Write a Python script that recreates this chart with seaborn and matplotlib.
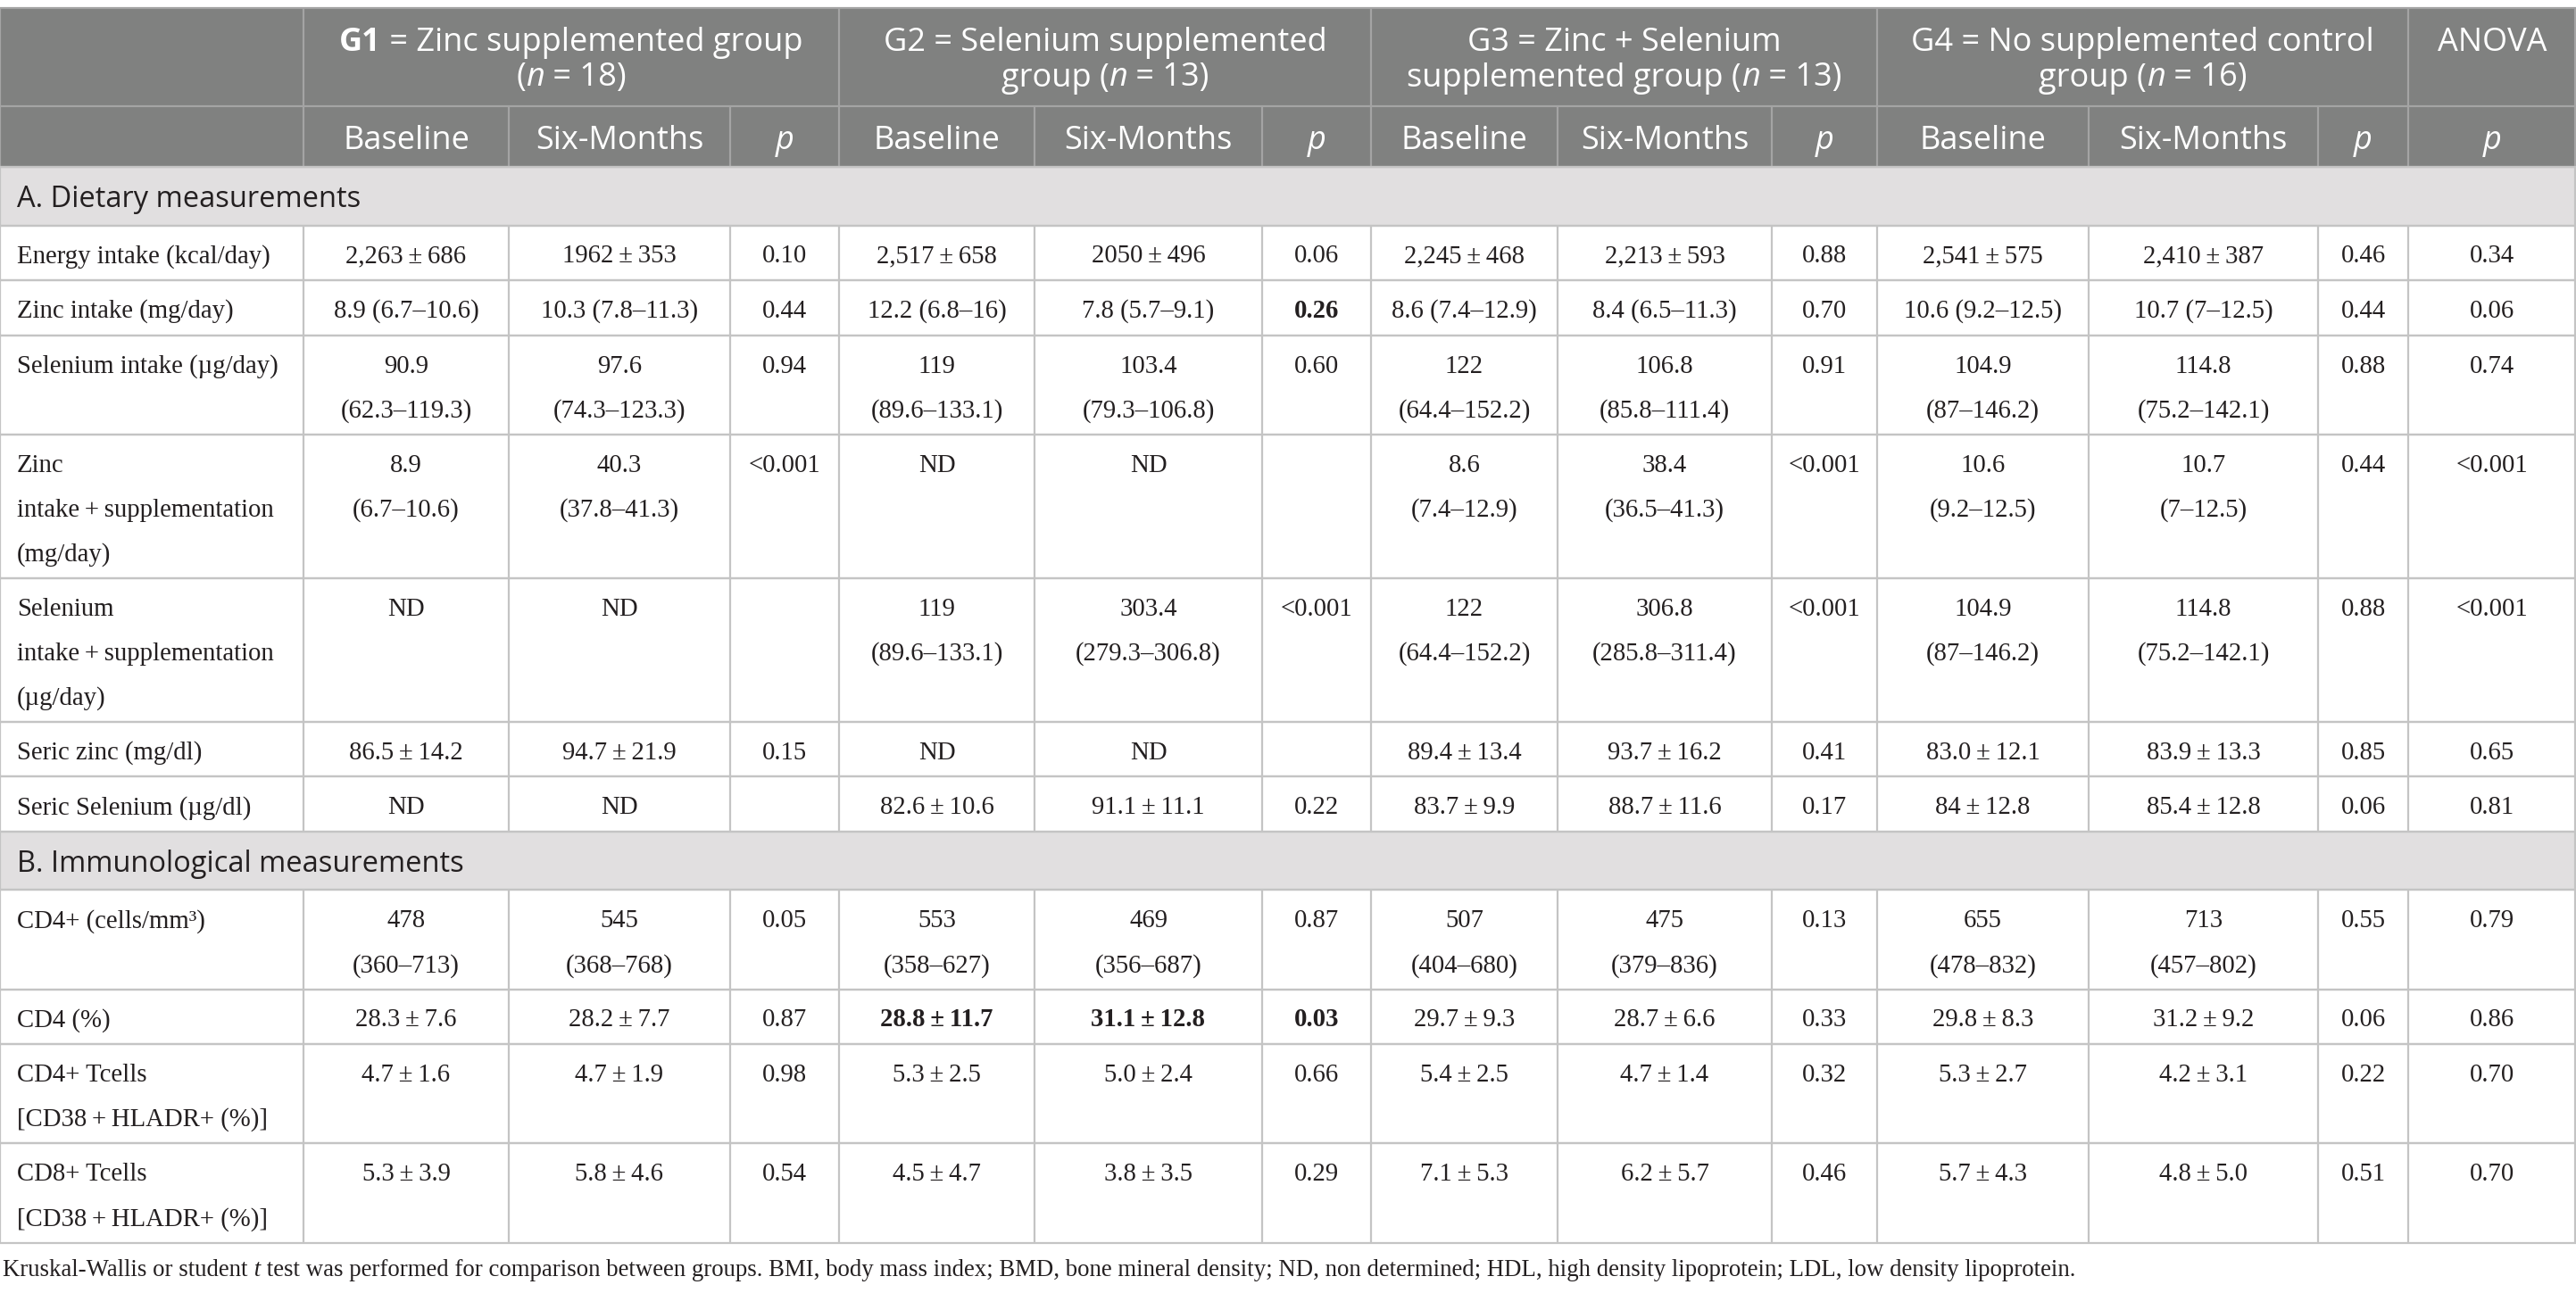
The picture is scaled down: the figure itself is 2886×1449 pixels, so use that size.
import matplotlib
matplotlib.use("Agg")
import numpy as np
import pandas as pd
import seaborn as sns
import matplotlib.pyplot as plt

# ---- table content -------------------------------------------------------
row_labels = [
    "Energy intake (kcal/day)",
    "Zinc intake (mg/day)",
    "Selenium intake (µg/day)",
    "Zinc\nintake\u2009+\u2009supplementation\n(mg/day)",
    "Selenium\nintake\u2009+\u2009supplementation\n(µg/day)",
    "Seric zinc (mg/dl)",
    "Seric Selenium (µg/dl)",
    "CD4+ (cells/mm³)",
    "CD4 (%)",
    "CD4+ Tcells\n[CD38\u2009+\u2009HLADR+ (%)]",
    "CD8+ Tcells\n[CD38\u2009+\u2009HLADR+ (%)]",
]
sections = {0: "A. Dietary measurements", 7: "B. Immunological measurements"}

g1_base = ["2,263 ± 686", "8.9 (6.7–10.6)", "90.9\n(62.3–119.3)", "8.9\n(6.7–10.6)", "ND",
           "86.5 ± 14.2", "ND", "478\n(360–713)", "28.3 ± 7.6", "4.7 ± 1.6", "5.3 ± 3.9"]
g1_six = ["1962 ± 353", "10.3 (7.8–11.3)", "97.6\n(74.3–123.3)", "40.3\n(37.8–41.3)", "ND",
          "94.7 ± 21.9", "ND", "545\n(368–768)", "28.2 ± 7.7", "4.7 ± 1.9", "5.8 ± 4.6"]
g1_p = ["0.10", "0.44", "0.94", "<0.001", "", "0.15", "", "0.05", "0.87", "0.98", "0.54"]

g2_base = ["2,517 ± 658", "12.2 (6.8–16)", "119\n(89.6–133.1)", "ND", "119\n(89.6–133.1)",
           "ND", "82.6 ± 10.6", "553\n(358–627)", "28.8 ± 11.7", "5.3 ± 2.5", "4.5 ± 4.7"]
g2_six = ["2050 ± 496", "7.8 (5.7–9.1)", "103.4\n(79.3–106.8)", "ND", "303.4\n(279.3–306.8)",
          "ND", "91.1 ± 11.1", "469\n(356–687)", "31.1 ± 12.8", "5.0 ± 2.4", "3.8 ± 3.5"]
g2_p = ["0.06", "0.26", "0.60", "", "<0.001", "", "0.22", "0.87", "0.03", "0.66", "0.29"]

g3_base = ["2,245 ± 468", "8.6 (7.4–12.9)", "122\n(64.4–152.2)", "8.6\n(7.4–12.9)", "122\n(64.4–152.2)",
           "89.4 ± 13.4", "83.7 ± 9.9", "507\n(404–680)", "29.7 ± 9.3", "5.4 ± 2.5", "7.1 ± 5.3"]
g3_six = ["2,213 ± 593", "8.4 (6.5–11.3)", "106.8\n(85.8–111.4)", "38.4\n(36.5–41.3)", "306.8\n(285.8–311.4)",
          "93.7 ± 16.2", "88.7 ± 11.6", "475\n(379–836)", "28.7 ± 6.6", "4.7 ± 1.4", "6.2 ± 5.7"]
g3_p = ["0.88", "0.70", "0.91", "<0.001", "<0.001", "0.41", "0.17", "0.13", "0.33", "0.32", "0.46"]

g4_base = ["2,541 ± 575", "10.6 (9.2–12.5)", "104.9\n(87–146.2)", "10.6\n(9.2–12.5)", "104.9\n(87–146.2)",
           "83.0 ± 12.1", "84 ± 12.8", "655\n(478–832)", "29.8 ± 8.3", "5.3 ± 2.7", "5.7 ± 4.3"]
g4_six = ["2,410 ± 387", "10.7 (7–12.5)", "114.8\n(75.2–142.1)", "10.7\n(7–12.5)", "114.8\n(75.2–142.1)",
          "83.9 ± 13.3", "85.4 ± 12.8", "713\n(457–802)", "31.2 ± 9.2", "4.2 ± 3.1", "4.8 ± 5.0"]
g4_p = ["0.46", "0.44", "0.88", "0.44", "0.88", "0.85", "0.06", "0.55", "0.06", "0.22", "0.51"]

anova_p = ["0.34", "0.06", "0.74", "<0.001", "<0.001", "0.65", "0.81", "0.79", "0.86", "0.70", "0.70"]

# (row, column) cells printed in bold
bold_cells = {(1, 6), (8, 4), (8, 5), (8, 6)}

group_titles = [
    ([("G1", "bold", "normal"), (" = Zinc supplemented group", "normal", "normal")],
     [("(", "normal", "normal"), ("n", "normal", "italic"), (" = 18)", "normal", "normal")]),
    ([("G2 = Selenium supplemented", "normal", "normal")],
     [("group (", "normal", "normal"), ("n", "normal", "italic"), (" = 13)", "normal", "normal")]),
    ([("G3 = Zinc + Selenium", "normal", "normal")],
     [("supplemented group (", "normal", "normal"), ("n", "normal", "italic"), (" = 13)", "normal", "normal")]),
    ([("G4 = No supplemented control", "normal", "normal")],
     [("group (", "normal", "normal"), ("n", "normal", "italic"), (" = 16)", "normal", "normal")]),
]
sub_headers = ["Baseline", "Six-Months", "p"]

footnote = [("Kruskal-Wallis or student", "normal", "normal"), (" t", "normal", "italic"),
            (" test was performed for comparison between groups. BMI, body mass index; BMD, bone "
             "mineral density; ND, non determined; HDL, high density lipoprotein; LDL, low density "
             "lipoprotein.", "normal", "normal")]

table = pd.DataFrame({
    "label": row_labels,
    "g1_base": g1_base, "g1_six": g1_six, "g1_p": g1_p,
    "g2_base": g2_base, "g2_six": g2_six, "g2_p": g2_p,
    "g3_base": g3_base, "g3_six": g3_six, "g3_p": g3_p,
    "g4_base": g4_base, "g4_six": g4_six, "g4_p": g4_p,
    "anova": anova_p,
})
table = table.replace(" ± ", "\u2009±\u2009", regex=True)

# ---- layout --------------------------------------------------------------
W, H = 2886, 1449
col_edges = [0, 340, 570, 818, 940, 1159, 1414, 1536, 1745, 1985, 2103, 2340, 2597, 2698, 2886]
group_edges = [340, 940, 1536, 2103, 2698, 2886]
TOP = 9
HEAD1, HEAD2, SECT = 110, 68, 65.5
LINE_H = 49.75
HEAD_SIZE, SECT_SIZE, BODY_SIZE = 26, 23.5, 20.7

HEAD_BG = "#808180"
HEAD_LINE = "#a4a4a4"
SECT_BG = "#e1dfe0"
GRID = "#c4c4c4"
INK = "#231f20"
SANS = ["Open Sans", "DejaVu Sans"]
SERIF = ["Liberation Serif", "DejaVu Serif"]

sns.set_theme(style="white")
plt.rcParams["font.family"] = SERIF

fig = plt.figure(figsize=(W / 100, H / 100), dpi=100)
ax = fig.add_axes([0, 0, 1, 1])
ax.set_xlim(0, W)
ax.set_ylim(H, 0)
ax.axis("off")
renderer = fig.canvas.get_renderer()


def put_runs(x, y, runs, size, family, color, ha="center"):
    items = []
    for s, weight, style in runs:
        t = ax.text(0, y, s, ha="left", va="baseline", fontsize=size, family=family,
                    fontweight=weight, fontstyle=style, color=color)
        items.append((t, t.get_window_extent(renderer).width))
    total = sum(w for _, w in items)
    cur = x - total / 2 if ha == "center" else x
    for t, w in items:
        t.set_x(cur)
        cur += w
    return total


# header
y_h1, y_h2 = TOP, TOP + HEAD1
y_body = y_h2 + HEAD2
ax.axhspan(y_h1, y_body, color=HEAD_BG, lw=0)
for gi, (line1, line2) in enumerate(group_titles):
    cx = (group_edges[gi] + group_edges[gi + 1]) / 2
    put_runs(cx, y_h1 + 48, line1, HEAD_SIZE, SANS, "white")
    put_runs(cx, y_h1 + 87.5, line2, HEAD_SIZE, SANS, "white")
ax.text((group_edges[4] + group_edges[5]) / 2, y_h1 + 48, "ANOVA", ha="center", va="baseline",
        fontsize=HEAD_SIZE, family=SANS, color="white")
for ci in range(1, 14):
    label = sub_headers[(ci - 1) % 3] if ci < 13 else "p"
    ax.text((col_edges[ci] + col_edges[ci + 1]) / 2, y_h2 + 48, label, ha="center", va="baseline",
            fontsize=HEAD_SIZE, family=SANS, color="white",
            fontstyle="italic" if label == "p" else "normal")
ax.hlines([y_h1, y_h2, y_body], 0, W, color=HEAD_LINE, lw=1.6)
ax.vlines(group_edges[:-1], y_h1, y_h2, color=HEAD_LINE, lw=1.6)
ax.vlines(col_edges[1:-1], y_h2, y_body, color=HEAD_LINE, lw=1.6)
ax.vlines([0, W - 1], y_h1, y_body, color=HEAD_LINE, lw=1.6)

# body
y = y_body
columns = list(table.columns)
for ri, row in table.iterrows():
    if ri in sections:
        ax.axhspan(y, y + SECT, color=SECT_BG, lw=0)
        ax.text(19, y + 45, sections[ri], ha="left", va="baseline", fontsize=SECT_SIZE,
                family=SANS, color=INK)
        ax.hlines([y, y + SECT], 0, W, color=GRID, lw=1.6)
        ax.vlines([0, W - 1], y, y + SECT, color=GRID, lw=1.6)
        y += SECT
    n_lines = max(str(v).count("\n") + 1 for v in row.values)
    h = 61.5 + LINE_H * (n_lines - 1)
    for ci, col in enumerate(columns):
        lines = str(row[col]).split("\n")
        for li, s in enumerate(lines):
            if not s:
                continue
            if ci == 0:
                x, ha = 19, "left"
            else:
                x, ha = (col_edges[ci] + col_edges[ci + 1]) / 2, "center"
            ax.text(x, y + 42 + 50 * li, s, ha=ha, va="baseline", fontsize=BODY_SIZE,
                    family=SERIF, color=INK,
                    fontweight="bold" if (ri, ci) in bold_cells else "normal")
    ax.vlines(col_edges[:-1] + [W - 1], y, y + h, color=GRID, lw=1.6)
    ax.hlines([y, y + h], 0, W, color=GRID, lw=1.6)
    y += h

# footnote, fitted to its printed width
probe = put_runs(3, y + 38, footnote, 20, SERIF, INK, ha="left")
for t in ax.texts[-len(footnote):]:
    t.remove()
put_runs(3, y + 38, footnote, 20 * 2323 / probe, SERIF, INK, ha="left")

fig.savefig("out.png", dpi=100, facecolor="white")
